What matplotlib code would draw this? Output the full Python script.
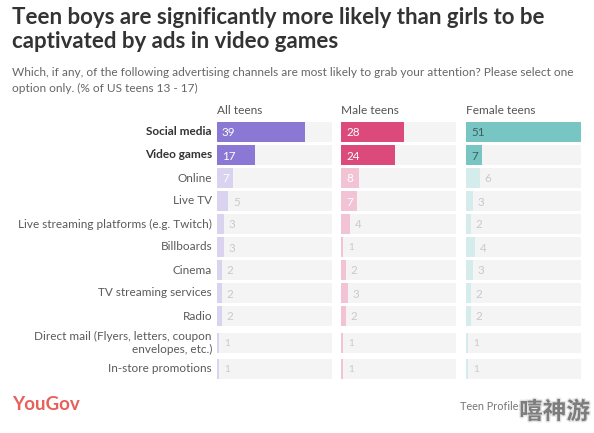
import matplotlib.pyplot as plt
from matplotlib import patheffects

plt.rcParams["font.family"] = ["Lato", "DejaVu Sans"]

CHANNELS = [
    "Social media",
    "Video games",
    "Online",
    "Live TV",
    "Live streaming platforms (e.g. Twitch)",
    "Billboards",
    "Cinema",
    "TV streaming services",
    "Radio",
    "Direct mail (Flyers, letters, coupon\nenvelopes, etc.)",
    "In-store promotions",
]
HIGHLIGHTED = ["Social media", "Video games"]

GROUPS = ["All teens", "Male teens", "Female teens"]
all_teens = [39, 17, 7, 5, 3, 3, 2, 2, 2, 1, 1]
male_teens = [28, 24, 8, 7, 4, 1, 2, 3, 2, 1, 1]
female_teens = [51, 7, 6, 3, 2, 4, 3, 2, 2, 1, 1]
SERIES = [all_teens, male_teens, female_teens]

STRONG = ["#8b78d5", "#dc4a7c", "#77c6c4"]
FADED = ["#d9d3f0", "#f1c3d5", "#d4ecec"]
STRONG_TEXT = ["white", "white", "#3d5f5e"]
BG = "#f4f4f4"
X_MAX = 51

W, H = 594, 433
fig = plt.figure(figsize=(W / 100, H / 100), dpi=100)

# title block
fig.text(12 / W, 1 - 17 / H, "Teen boys are significantly more likely than girls to be",
         fontsize=16, fontweight="bold", color="#333333", va="center")
fig.text(12 / W, 1 - 42 / H, "captivated by ads in video games",
         fontsize=16, fontweight="bold", color="#333333", va="center")
fig.text(12 / W, 1 - 72 / H,
         "Which, if any, of the following advertising channels are most likely to grab your attention? Please select one",
         fontsize=8.6, color="#666666", va="center")
fig.text(12 / W, 1 - 88 / H, "option only. (% of US teens 13 - 17)",
         fontsize=8.6, color="#666666", va="center")

# row centres in pixels, two-line labels get a little extra room
row_y = []
y = 132
for name in CHANNELS:
    if "\n" in name:
        y += 4
        row_y.append(y)
        y += 26
    else:
        row_y.append(y)
        y += 23

panel_left = [217, 341, 466]
panel_width = 115
bar_h = 20

for p in range(3):
    ax = fig.add_axes([panel_left[p] / W, 0, panel_width / W, 1])
    ax.set_xlim(0, X_MAX)
    ax.set_ylim(H, 0)
    ax.axis("off")
    px = X_MAX / panel_width  # data units per pixel

    ax.text(0, 111, GROUPS[p], fontsize=8.6, color="#555555", va="center")

    for name, value, yc in zip(CHANNELS, SERIES[p], row_y):
        strong = name in HIGHLIGHTED
        ax.barh(yc, X_MAX, height=bar_h, color=BG, left=0)
        ax.barh(yc, value, height=bar_h, color=STRONG[p] if strong else FADED[p], left=0)
        if strong:
            ax.text(5 * px, yc + 1, str(value), fontsize=8.4, color=STRONG_TEXT[p], va="center")
        elif value >= 7:
            ax.text(5 * px, yc + 1, str(value), fontsize=8.4, color="white", va="center")
        else:
            ax.text(value + 5 * px, yc + 1, str(value), fontsize=8.4 if value > 1 else 7.2,
                    color="#c9c9c9", va="center")

for name, yc in zip(CHANNELS, row_y):
    strong = name in HIGHLIGHTED
    fig.text(212 / W, 1 - yc / H, name, ha="right", va="center", fontsize=8.5,
             fontweight="bold" if strong else "normal",
             color="#333333" if strong else "#5a5a5a", linespacing=1.2)

# footer
fig.text(12 / W, 1 - 405 / H, "YouGov", fontsize=13.5, fontweight="bold",
         color="#e8605a", va="center")
fig.text(460 / W, 1 - 406 / H, "Teen Profiles", fontsize=7.8, color="#777777", va="center")
wm = fig.text(590 / W, 1 - 412 / H, "嘻神游", fontsize=17, fontweight="bold",
              color="#7d7d7d", va="center", ha="right",
              family=["Noto Sans CJK SC", "DejaVu Sans"])
wm.set_path_effects([patheffects.withStroke(linewidth=2, foreground="#e6e6e6")])

fig.savefig("out.png", dpi=100)
